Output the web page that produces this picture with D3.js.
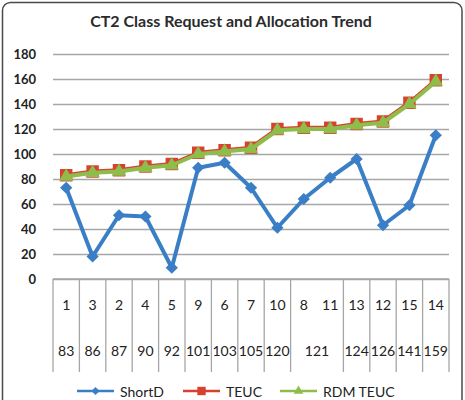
<!DOCTYPE html>
<html>
<head>
<meta charset="utf-8">
<script src="https://cdn.jsdelivr.net/npm/d3@7"></script>
<style>
  body { margin: 0; background: #fff; }
  svg { display: block; }
</style>
</head>
<body>
<div id="chart"></div>
<script>
// class order (inner category row)
var classIds = ['1', '3', '2', '4', '5', '9', '6', '7', '10', '8', '11', '13', '12', '15', '14'];
// request totals (outer category row, equal neighbours are merged)
var requestLabels = ['83', '86', '87', '90', '92', '101', '103', '105', '120', '121', '121', '124', '126', '141', '159'];

var shortD  = [73, 18, 51, 50, 9, 89, 93, 73, 41, 64, 81, 96, 43, 59, 115];
var teuc    = [83, 86, 87, 90, 92, 101, 103, 105, 120, 121, 121, 124, 126, 141, 159];
var rdmTeuc = [82, 85, 86, 89, 91, 100, 102, 104, 119, 120, 120, 123, 125, 140, 158];

var yTicks = [0, 20, 40, 60, 80, 100, 120, 140, 160, 180];

var W = 465, H = 400;
var margin = { top: 54, right: 16, bottom: 121, left: 53 };
var width  = W - margin.left - margin.right,
    height = H - margin.top - margin.bottom;

var svg = d3.select('#chart').append('svg')
    .attr('width', W)
    .attr('height', H);

// outer frame
svg.append('rect')
    .attr('x', 2.5).attr('y', 2.5)
    .attr('width', 459.5).attr('height', 420)
    .attr('rx', 8)
    .attr('fill', 'none')
    .attr('stroke', '#4a4a4a')
    .attr('stroke-width', 1.5);

svg.append('text')
    .attr('x', 231).attr('y', 27)
    .attr('text-anchor', 'middle')
    .attr('font-family', 'Lato, sans-serif')
    .attr('font-weight', 'bold')
    .attr('font-size', '16px')
    .attr('fill', '#2b2b2b')
    .text('CT2 Class Request and Allocation Trend');

var g = svg.append('g')
    .attr('transform', 'translate(' + margin.left + ',' + margin.top + ')');

var idx = d3.range(classIds.length);
var x = d3.scaleBand().domain(idx).range([0, width]).padding(0);
var y = d3.scaleLinear().domain([0, 180]).range([height, 0]);
var cx = function(i) { return x(i) + x.bandwidth() / 2; };

// gridlines + y labels
var yAxis = g.append('g')
    .call(d3.axisLeft(y).tickValues(yTicks).tickSize(-width).tickPadding(17));
yAxis.select('.domain').remove();
yAxis.selectAll('.tick line').attr('stroke', '#a6a6a6').attr('stroke-width', 1.3);
yAxis.selectAll('.tick text')
    .attr('font-family', 'Lato, sans-serif')
    .attr('font-weight', 'bold')
    .attr('font-size', '13px')
    .attr('fill', '#222');

// category table under the plot
var tableH = 93;
var table = g.append('g').attr('transform', 'translate(0,' + height + ')');
table.append('line')
    .attr('x1', 0).attr('x2', width)
    .attr('stroke', '#a6a6a6').attr('stroke-width', 1.3);

// merge equal neighbouring outer labels
var groups = [];
requestLabels.forEach(function(lab, i) {
    var last = groups[groups.length - 1];
    if (last && last.label === lab) last.end = i;
    else groups.push({ label: lab, start: i, end: i });
});

var dividers = [0];
groups.forEach(function(gr) { dividers.push(x(gr.end) + x.bandwidth()); });
table.selectAll('.div')
    .data(dividers)
  .enter().append('line')
    .attr('x1', function(d) { return d; })
    .attr('x2', function(d) { return d; })
    .attr('y1', 0).attr('y2', tableH)
    .attr('stroke', '#a6a6a6').attr('stroke-width', 1.3);

table.selectAll('.inner')
    .data(classIds)
  .enter().append('text')
    .attr('x', function(d, i) { return cx(i); })
    .attr('y', 31)
    .attr('text-anchor', 'middle')
    .attr('font-family', 'Lato, sans-serif')
    .attr('font-size', '14px')
    .attr('fill', '#222')
    .text(function(d) { return d; });

table.selectAll('.outer')
    .data(groups)
  .enter().append('text')
    .attr('x', function(d) { return (x(d.start) + x(d.end) + x.bandwidth()) / 2; })
    .attr('y', 77)
    .attr('text-anchor', 'middle')
    .attr('font-family', 'Lato, sans-serif')
    .attr('font-size', '14px')
    .attr('fill', '#222')
    .text(function(d) { return d.label; });

// series
var series = [
    { name: 'ShortD',   values: shortD,  color: '#3a7fc6', shape: d3.symbolSquare,   size: 75, rot: 45 },
    { name: 'TEUC',     values: teuc,    color: '#d8412f', shape: d3.symbolSquare,   size: 155, rot: 0 },
    { name: 'RDM TEUC', values: rdmTeuc, color: '#8fbd4b', shape: d3.symbolTriangle, size: 90, rot: 0 }
];

var line = d3.line()
    .x(function(d, i) { return cx(i); })
    .y(function(d) { return y(d); });

series.forEach(function(s, k) {
    g.append('path')
        .datum(s.values)
        .attr('d', line)
        .attr('fill', 'none')
        .attr('stroke', s.color)
        .attr('stroke-width', 4)
        .attr('stroke-linejoin', 'round');
    g.selectAll('.marker' + k)
        .data(s.values)
      .enter().append('path')
        .attr('class', 'marker' + k)
        .attr('d', d3.symbol().type(s.shape).size(s.size))
        .attr('transform', function(d, i) {
            return 'translate(' + cx(i) + ',' + y(d) + ') rotate(' + s.rot + ')';
        })
        .attr('fill', s.color);
});

// legend
var legendX = [77, 183, 280];
var legend = svg.selectAll('.legend')
    .data(series)
  .enter().append('g')
    .attr('transform', function(d, i) { return 'translate(' + legendX[i] + ',391)'; });
legend.append('line')
    .attr('x1', 0).attr('x2', 37)
    .attr('stroke', function(d) { return d.color; })
    .attr('stroke-width', 2.5);
legend.append('path')
    .attr('d', function(d) { return d3.symbol().type(d.shape).size(d.size * 0.45)(); })
    .attr('transform', function(d) { return 'translate(18.5,0) rotate(' + d.rot + ')'; })
    .attr('fill', function(d) { return d.color; });
legend.append('text')
    .attr('x', 43).attr('y', 5.5)
    .attr('font-family', 'Lato, sans-serif')
    .attr('font-size', '14px')
    .attr('fill', '#222')
    .text(function(d) { return d.name; });
</script>
</body>
</html>
